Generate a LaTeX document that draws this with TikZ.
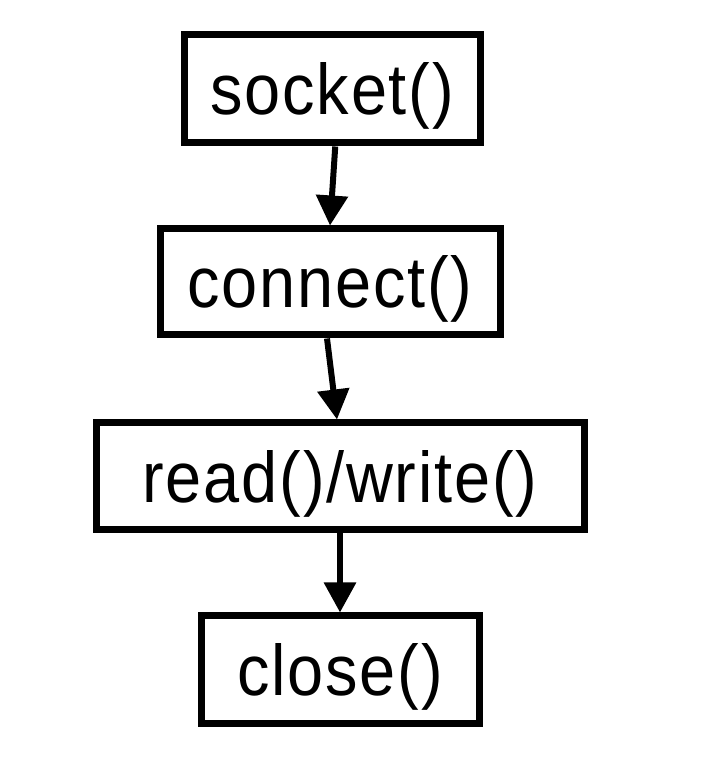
\documentclass[tikz,border=0pt]{standalone}
\usepackage{fontspec}
\setmainfont{Liberation Sans}
\newfontfamily\boxfont[LetterSpace=2.8]{Liberation Sans}
\newcommand{\boxlbl}[1]{\scalebox{0.94}[1.04]{#1}}
\usetikzlibrary{arrows.meta}
\begin{document}
\begin{tikzpicture}[x=1pt,y=1pt,
  stepbox/.style={draw=black, line width=7pt, fill=white, inner sep=0pt,
    text height=56pt, text depth=4pt,
    font=\boxfont\fontsize{69}{80}\selectfont},
  flow/.style={line width=6pt, -{Triangle[length=30pt,width=31pt]}}]
\useasboundingbox (0,0) rectangle (703,776);
\node[stepbox, minimum width=295.5pt, minimum height=108pt] (sock) at (332.25,687) {\boxlbl{socket()}};
\node[stepbox, minimum width=340pt, minimum height=106pt] (conn) at (330,494) {\boxlbl{connect()}};
\node[stepbox, minimum width=488pt, minimum height=107pt] (rw) at (340,299.5) {\boxlbl{read()/write()}};
\node[stepbox, minimum width=278pt, minimum height=108pt] (clos) at (340,106) {\boxlbl{close()}};
\draw[flow] ([xshift=3pt]sock.south) -- (conn.north);
\draw[flow] ([xshift=-3pt]conn.south) -- ([xshift=-3pt]rw.north);
\draw[flow] (rw.south) -- (clos.north);
\end{tikzpicture}
\end{document}
